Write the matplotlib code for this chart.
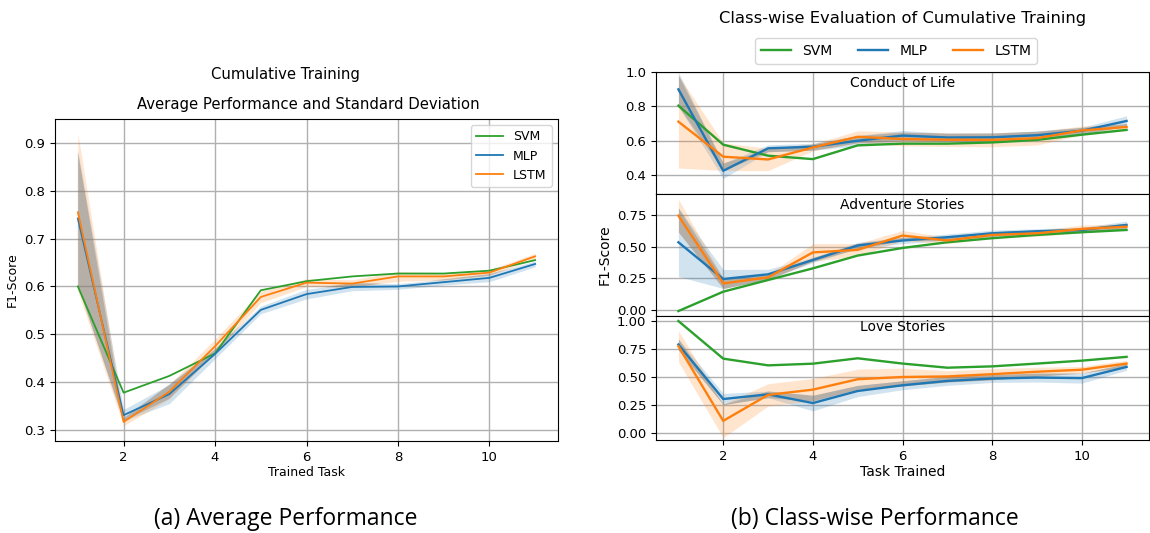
import numpy as np
import matplotlib
matplotlib.use("Agg")
import matplotlib.pyplot as plt

plt.rcParams['font.family'] = ['DejaVu Sans']

tasks = [1, 2, 3, 4, 5, 6, 7, 8, 9, 10, 11]
models = ["SVM", "MLP", "LSTM"]
colors = {"SVM": "#2ca02c", "MLP": "#1f77b4", "LSTM": "#ff7f0e"}

# ---- (a) Average performance ----
avg_svm = [0.600, 0.378, 0.413, 0.460, 0.592, 0.611, 0.621, 0.627, 0.627, 0.633, 0.655]
avg_mlp = [0.742, 0.331, 0.375, 0.459, 0.551, 0.584, 0.599, 0.600, 0.609, 0.618, 0.647]
avg_lstm = [0.755, 0.317, 0.380, 0.475, 0.578, 0.608, 0.606, 0.621, 0.621, 0.629, 0.663]
avg_mlp_sd = [0.140, 0.012, 0.020, 0.010, 0.008, 0.010, 0.008, 0.006, 0.006, 0.008, 0.006]
avg_lstm_sd = [0.165, 0.008, 0.015, 0.015, 0.012, 0.008, 0.008, 0.010, 0.008, 0.006, 0.006]

# ---- (b) Class-wise performance ----
class_names = ["Conduct of Life", "Adventure Stories", "Love Stories"]
col_svm = [0.804, 0.577, 0.513, 0.493, 0.573, 0.583, 0.583, 0.590, 0.605, 0.635, 0.663]
col_mlp = [0.899, 0.425, 0.556, 0.565, 0.600, 0.630, 0.619, 0.620, 0.632, 0.658, 0.715]
col_lstm = [0.711, 0.507, 0.491, 0.561, 0.623, 0.610, 0.606, 0.605, 0.615, 0.660, 0.680]
col_mlp_sd = [0.100, 0.045, 0.020, 0.020, 0.030, 0.030, 0.025, 0.025, 0.025, 0.020, 0.030]
col_lstm_sd = [0.270, 0.080, 0.065, 0.020, 0.035, 0.040, 0.040, 0.040, 0.040, 0.025, 0.020]

adv_svm = [-0.008, 0.145, 0.237, 0.329, 0.430, 0.490, 0.535, 0.567, 0.593, 0.614, 0.632]
adv_mlp = [0.535, 0.245, 0.282, 0.395, 0.510, 0.549, 0.575, 0.606, 0.622, 0.632, 0.672]
adv_lstm = [0.745, 0.210, 0.258, 0.455, 0.475, 0.588, 0.549, 0.593, 0.606, 0.640, 0.658]
adv_mlp_sd = [0.270, 0.075, 0.040, 0.020, 0.025, 0.025, 0.025, 0.025, 0.020, 0.020, 0.030]
adv_lstm_sd = [0.130, 0.040, 0.020, 0.070, 0.050, 0.040, 0.025, 0.025, 0.025, 0.030, 0.025]

love_svm = [1.000, 0.664, 0.604, 0.619, 0.667, 0.620, 0.583, 0.595, 0.620, 0.646, 0.680]
love_mlp = [0.790, 0.303, 0.345, 0.267, 0.375, 0.426, 0.465, 0.486, 0.495, 0.490, 0.590]
love_lstm = [0.775, 0.108, 0.340, 0.387, 0.480, 0.500, 0.505, 0.525, 0.547, 0.565, 0.620]
love_mlp_sd = [0.050, 0.050, 0.030, 0.070, 0.050, 0.040, 0.040, 0.035, 0.040, 0.045, 0.030]
love_lstm_sd = [0.140, 0.150, 0.100, 0.100, 0.090, 0.080, 0.050, 0.050, 0.040, 0.030, 0.030]

fig = plt.figure(figsize=(11.5, 5.33), dpi=100)
W, H = 1150, 533


def box(l, r, t, b):
    return [l / W, 1 - b / H, (r - l) / W, (b - t) / H]


def draw(ax, svm, mlp, lstm, mlp_sd, lstm_sd, lw):
    x = np.array(tasks, dtype=float)
    m, l = np.array(mlp), np.array(lstm)
    ms, ls = np.array(mlp_sd), np.array(lstm_sd)
    ax.fill_between(x, m - ms, m + ms, color=colors["MLP"], alpha=0.2, lw=0, zorder=1)
    ax.fill_between(x, l - ls, l + ls, color=colors["LSTM"], alpha=0.2, lw=0, zorder=1)
    lo = np.maximum(m - ms, l - ls)
    hi = np.minimum(m + ms, l + ls)
    ax.fill_between(x, lo, hi, where=hi > lo, interpolate=True,
                    color="#7f7f7f", alpha=0.4, lw=0, zorder=1)
    ax.plot(x, svm, color=colors["SVM"], lw=lw, label="SVM", zorder=3)
    ax.plot(x, mlp, color=colors["MLP"], lw=lw, label="MLP", zorder=3)
    ax.plot(x, lstm, color=colors["LSTM"], lw=lw, label="LSTM", zorder=3)
    ax.grid(True, color="#b0b0b0", lw=1.0, zorder=0)
    ax.set_axisbelow(True)
    ax.set_xlim(0.5, 11.5)
    ax.set_xticks([2, 4, 6, 8, 10])
    ax.tick_params(labelsize=9.5)


# (a)
axa = fig.add_axes(box(55, 558, 119, 441))
draw(axa, avg_svm, avg_mlp, avg_lstm, avg_mlp_sd, avg_lstm_sd, 1.3)
axa.set_ylim(0.277, 0.95)
axa.set_yticks([0.3, 0.4, 0.5, 0.6, 0.7, 0.8, 0.9])
axa.set_xlabel("Trained Task", fontsize=9, labelpad=2)
axa.set_ylabel("F1-Score", fontsize=9)
axa.legend(loc="upper right", fontsize=9, handlelength=2.2)
fig.text(285 / W, 1 - 75 / H, "Cumulative Training", ha="center", va="center", fontsize=10.7)
fig.text(308 / W, 1 - 105 / H, "Average Performance and Standard Deviation",
         ha="center", va="center", fontsize=10.7)

# (b)
tops = [(72, 194), (194, 316), (316, 440)]
ylims = [(0.29, 1.0), (-0.047, 0.916), (-0.063, 1.045)]
yticks = [[0.4, 0.6, 0.8, 1.0], [0.0, 0.25, 0.5, 0.75], [0.0, 0.25, 0.5, 0.75, 1.0]]
ydata = [
    (col_svm, col_mlp, col_lstm, col_mlp_sd, col_lstm_sd),
    (adv_svm, adv_mlp, adv_lstm, adv_mlp_sd, adv_lstm_sd),
    (love_svm, love_mlp, love_lstm, love_mlp_sd, love_lstm_sd),
]
axes_b = []
for i, (t, b) in enumerate(tops):
    ax = fig.add_axes(box(656, 1149, t, b))
    draw(ax, *ydata[i], 1.7)
    ax.set_ylim(*ylims[i])
    ax.set_yticks(yticks[i])
    if i == 0:
        ax.set_yticklabels(["0.4", "0.6", "0.8", "1.0"])
    else:
        ax.set_yticklabels(["%.2f" % v for v in yticks[i]])
    ax.text(0.5, 1 - 11 / (b - t), class_names[i], transform=ax.transAxes, ha="center",
            va="center", fontsize=10)
    if i < 2:
        ax.tick_params(labelbottom=False)
    axes_b.append(ax)

axes_b[1].set_ylabel("F1-Score", fontsize=10)
axes_b[2].set_xlabel("Task Trained", fontsize=10, labelpad=2)
h, lab = axes_b[0].get_legend_handles_labels()
fig.legend(h, lab, loc="center", bbox_to_anchor=(896 / W, 1 - 51 / H), ncol=3,
           fontsize=10, handlelength=2.2, columnspacing=1.8)
fig.text(903 / W, 1 - 18 / H, "Class-wise Evaluation of Cumulative Training",
         ha="center", va="center", fontsize=11.8)

cap_font = ["Liberation Sans Narrow", "Open Sans"]
fig.text(286 / W, 1 - 519 / H, "(a) Average Performance", ha="center", va="center",
         fontsize=16.5, family=cap_font)
fig.text(875 / W, 1 - 519 / H, "(b) Class-wise Performance", ha="center", va="center",
         fontsize=16.5, family=cap_font)

fig.savefig("out.png", dpi=100)
